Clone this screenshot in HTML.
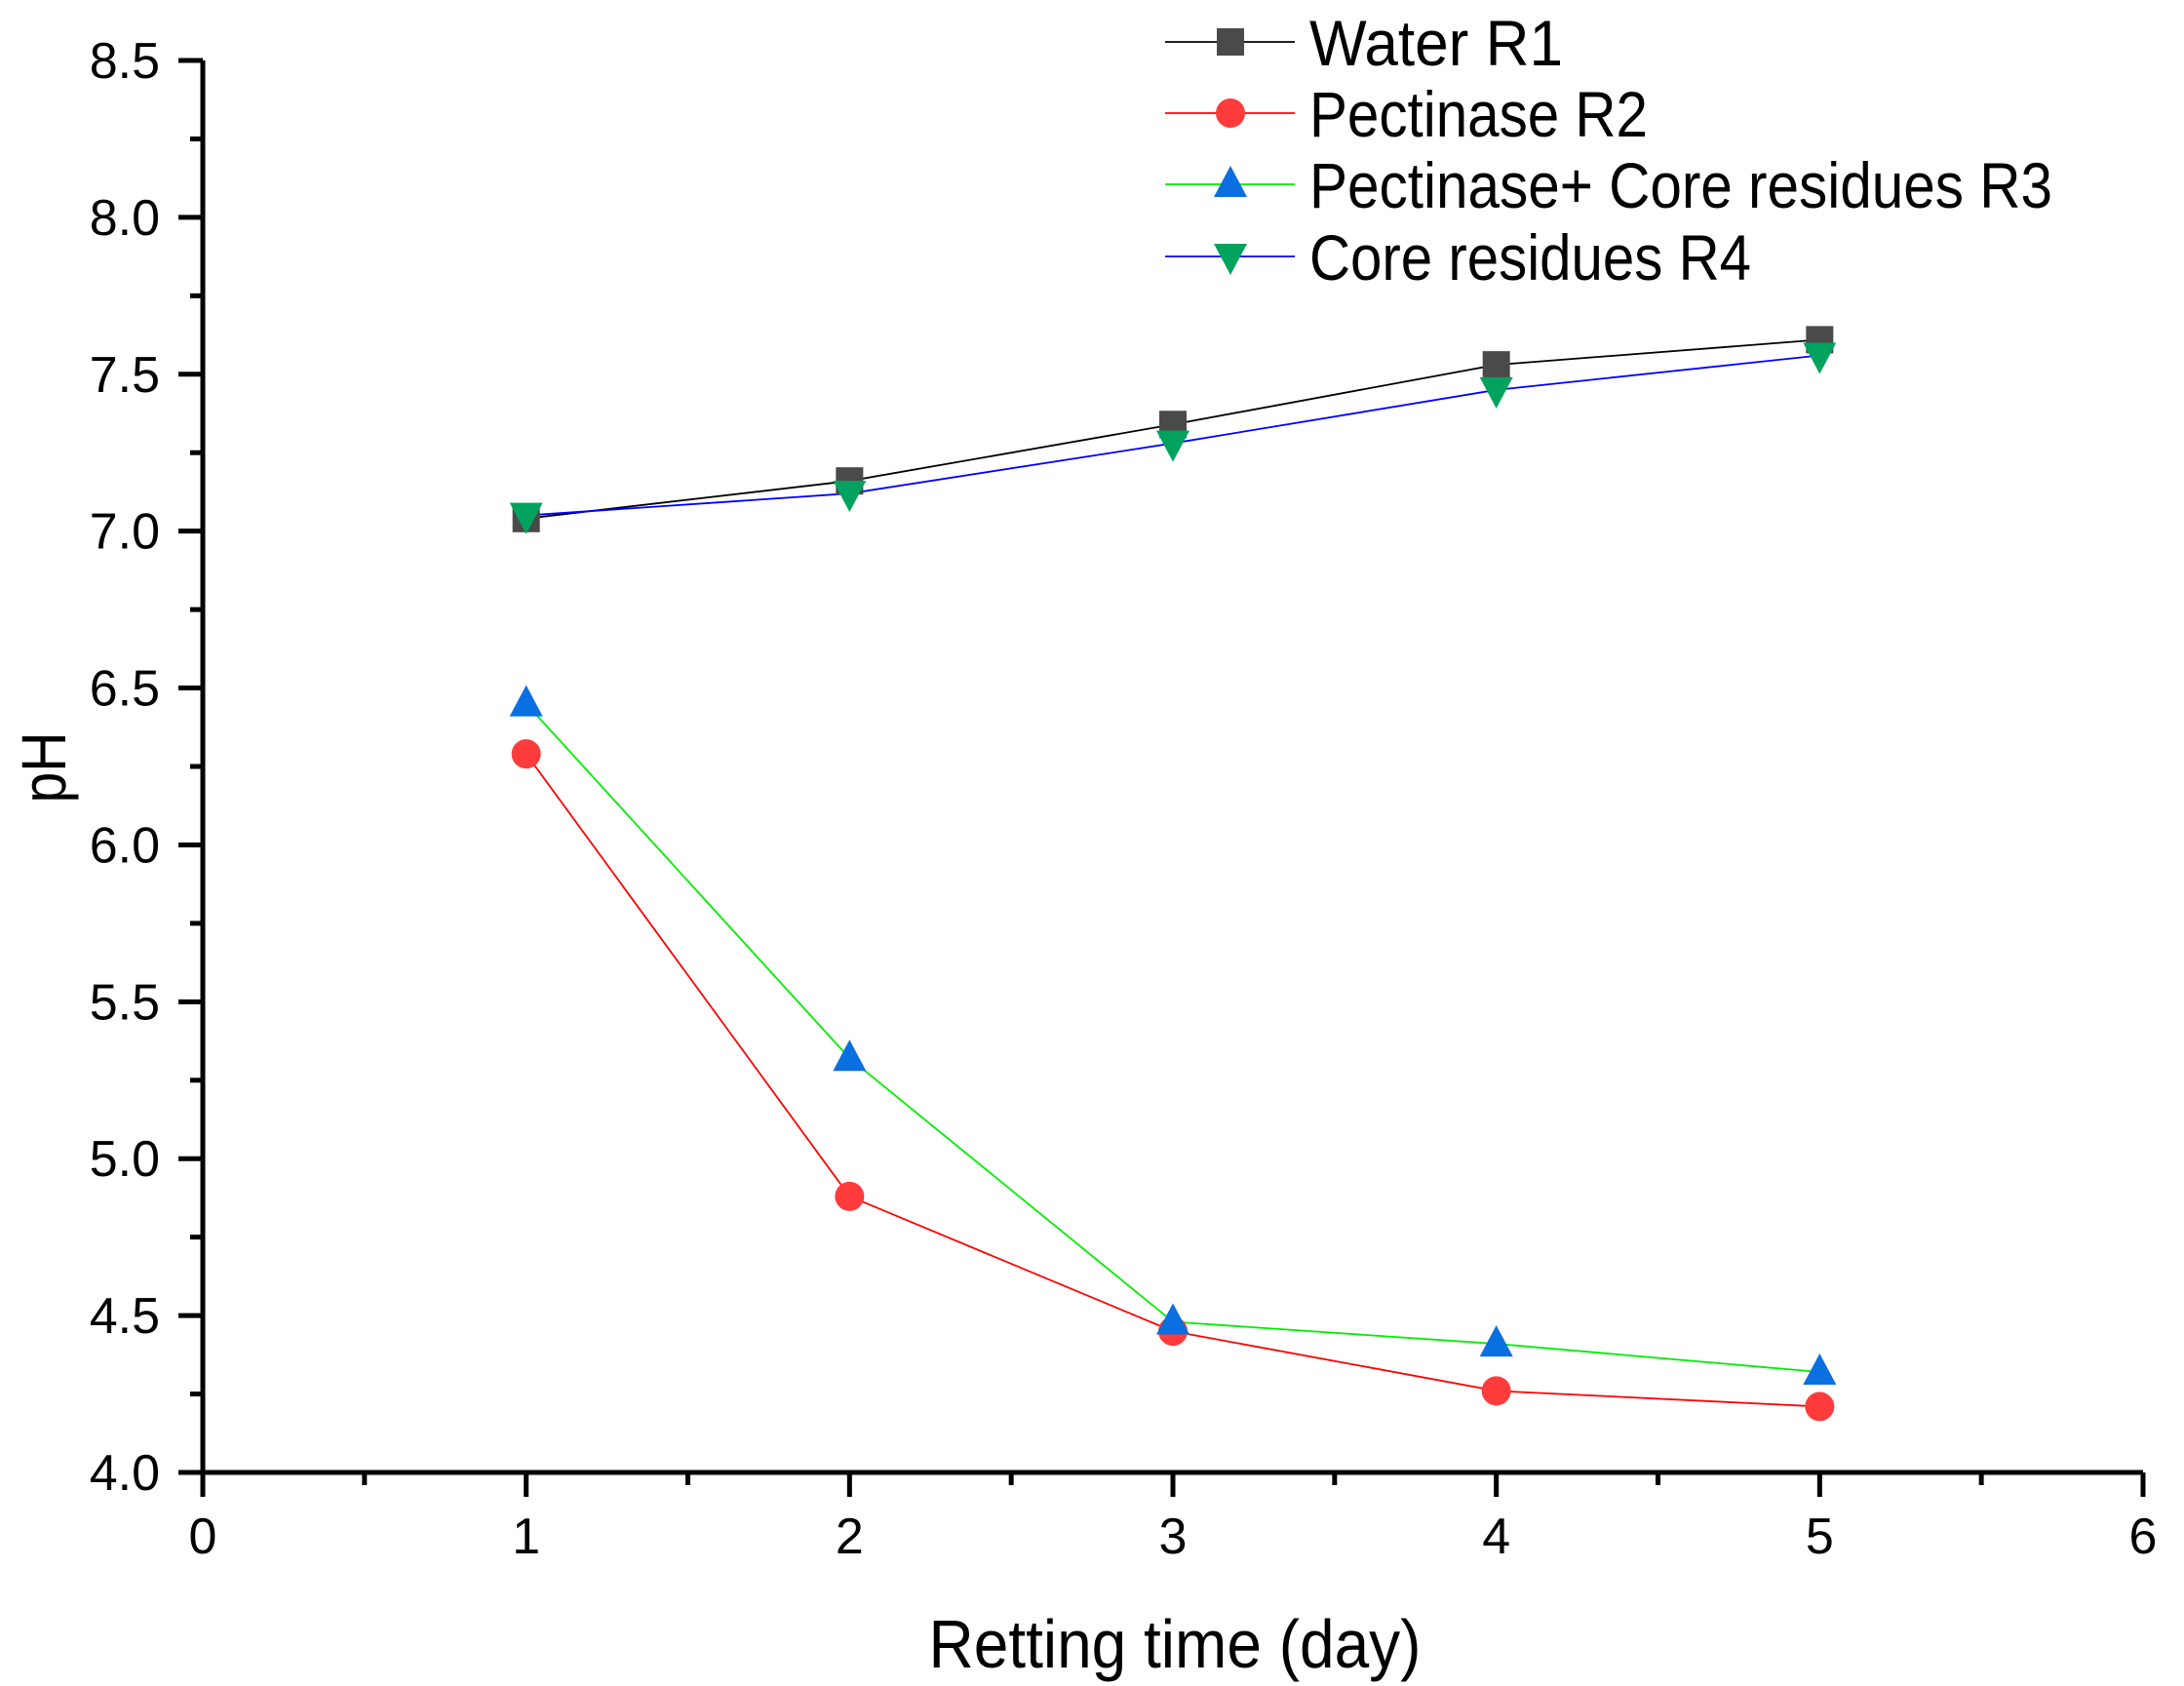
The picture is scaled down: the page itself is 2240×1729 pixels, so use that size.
<!DOCTYPE html>
<html><head><meta charset="utf-8"><style>
html,body{margin:0;padding:0;background:#fff}
svg{display:block;font-family:"Liberation Sans",Arial,sans-serif}
</style></head><body>
<svg id="chart" width="2240" height="1729" viewBox="0 0 2240 1729">
<g id="axes"></g>
<g id="series"></g>
<g id="legend"></g>
<text x="1205" y="1710" font-size="70" text-anchor="middle" textLength="505" lengthAdjust="spacingAndGlyphs">Retting time (day)</text>
<text x="0" y="0" font-size="64" text-anchor="middle" textLength="73" lengthAdjust="spacingAndGlyphs" transform="translate(67,787) rotate(-90)">pH</text>
</svg>
<script>
const days = [1, 2, 3, 4, 5];
const waterR1 = [7.04, 7.16, 7.34, 7.53, 7.61];
const pectinaseR2 = [6.29, 4.88, 4.45, 4.26, 4.21];
const pectCoreR3 = [6.45, 5.32, 4.48, 4.41, 4.32];
const coreR4 = [7.05, 7.12, 7.28, 7.45, 7.56];
const xTicks = [0, 1, 2, 3, 4, 5, 6];
const yTicks = ["4.0", "4.5", "5.0", "5.5", "6.0", "6.5", "7.0", "7.5", "8.0", "8.5"];
const seriesNames = ["Water  R1", "Pectinase R2", "Pectinase+ Core residues R3", "Core residues R4"];

const NS = "http://www.w3.org/2000/svg";
const X0 = 208, X1 = 2198, Y0 = 1510, Y1 = 62;
const xMin = 0, xMax = 6, yMin = 4, yMax = 8.5;
function sx(v){ return X0 + (v - xMin) / (xMax - xMin) * (X1 - X0); }
function sy(v){ return Y0 - (v - yMin) / (yMax - yMin) * (Y0 - Y1); }
function mk(tag, attrs, parent){ const e = document.createElementNS(NS, tag); for (const k in attrs) e.setAttribute(k, attrs[k]); parent.appendChild(e); return e; }

const axes = document.getElementById('axes');
let e;
e = mk('line', {x1: X0, y1: Y0, x2: X1, y2: Y0, stroke: '#000', 'stroke-width': 5}, axes);


e = mk('line', {x1: X0, y1: Y0 + 2, x2: X0, y2: Y1, stroke: '#000', 'stroke-width': 5}, axes);


xTicks.forEach(function(t){
  e = mk('line', {x1: sx(t), y1: Y0, x2: sx(t), y2: Y0 + 25, stroke: '#000', 'stroke-width': 5}, axes);
  
  
  e = mk('text', {x: sx(t), y: Y0 + 83, 'font-size': 52, 'text-anchor': 'middle'}, axes);
  e.textContent = t;
  
  
  if (t < xMax) {
    e = mk('line', {x1: sx(t + 0.5), y1: Y0, x2: sx(t + 0.5), y2: Y0 + 13, stroke: '#000', 'stroke-width': 5}, axes);
    
    
  }
});
yTicks.forEach(function(t){
  const v = parseFloat(t);
  e = mk('line', {x1: X0 - 25, y1: sy(v), x2: X0, y2: sy(v), stroke: '#000', 'stroke-width': 5}, axes);
  
  
  e = mk('text', {x: 164, y: sy(v) + 18, 'font-size': 52, 'text-anchor': 'end'}, axes);
  e.textContent = t;
  
  
  if (v < yMax) {
    e = mk('line', {x1: X0 - 13, y1: sy(v + 0.25), x2: X0, y2: sy(v + 0.25), stroke: '#000', 'stroke-width': 5}, axes);
    
    
  }
});

const styles = [
  {line: '#000000', fill: '#4a4a4a', shape: 'square'},
  {line: '#ff0000', fill: '#ff3b3b', shape: 'circle'},
  {line: '#00ee00', fill: '#0a6fe0', shape: 'up'},
  {line: '#0000ff', fill: '#00a35e', shape: 'down'}
];
function marker(shape, cx, cy, fill, parent){
  if (shape === 'square') return mk('rect', {x: cx - 14, y: cy - 14, width: 28, height: 28, fill: fill}, parent);
  if (shape === 'circle') return mk('ellipse', {cx: cx, cy: cy, rx: 15, ry: 15, fill: fill}, parent);
  if (shape === 'up') return mk('polygon', {points: (cx)+','+(cy-19)+' '+(cx+17)+','+(cy+13)+' '+(cx-17)+','+(cy+13), fill: fill}, parent);
  return mk('polygon', {points: (cx)+','+(cy+19)+' '+(cx+17)+','+(cy-13)+' '+(cx-17)+','+(cy-13), fill: fill}, parent);
}
const seriesData = [waterR1, pectinaseR2, pectCoreR3, coreR4];
const seriesKeys = ['water-r1', 'pectinase-r2', 'pectinase-core-r3', 'core-residues-r4'];
const sg = document.getElementById('series');
seriesData.forEach(function(vals, i){
  const g = mk('g', {}, sg);
  
  
  const pts = vals.map(function(v, j){ return sx(days[j]) + ',' + sy(v); }).join(' ');
  e = mk('polyline', {points: pts, fill: 'none', stroke: styles[i].line, 'stroke-width': 1.8}, g);
  
  
});
seriesData.forEach(function(vals, i){
  vals.forEach(function(v, j){
    e = marker(styles[i].shape, sx(days[j]), sy(v), styles[i].fill, sg);
    
    
  });
});

const lg = document.getElementById('legend');
const rowY = [43, 116, 189, 263];
const textLens = [260, 347, 762, 453];
seriesNames.forEach(function(name, i){
  const g = mk('g', {}, lg);
  
  
  e = mk('line', {x1: 1195, y1: rowY[i], x2: 1328, y2: rowY[i], stroke: styles[i].line, 'stroke-width': 1.8}, g);
  
  
  e = marker(styles[i].shape, 1262, rowY[i], styles[i].fill, g);
  
  
  e = mk('text', {x: 1343, y: rowY[i] + 24, 'font-size': 66, textLength: textLens[i], lengthAdjust: 'spacingAndGlyphs'}, g);
  e.textContent = name;
  
  
});
</script>
</body></html>
